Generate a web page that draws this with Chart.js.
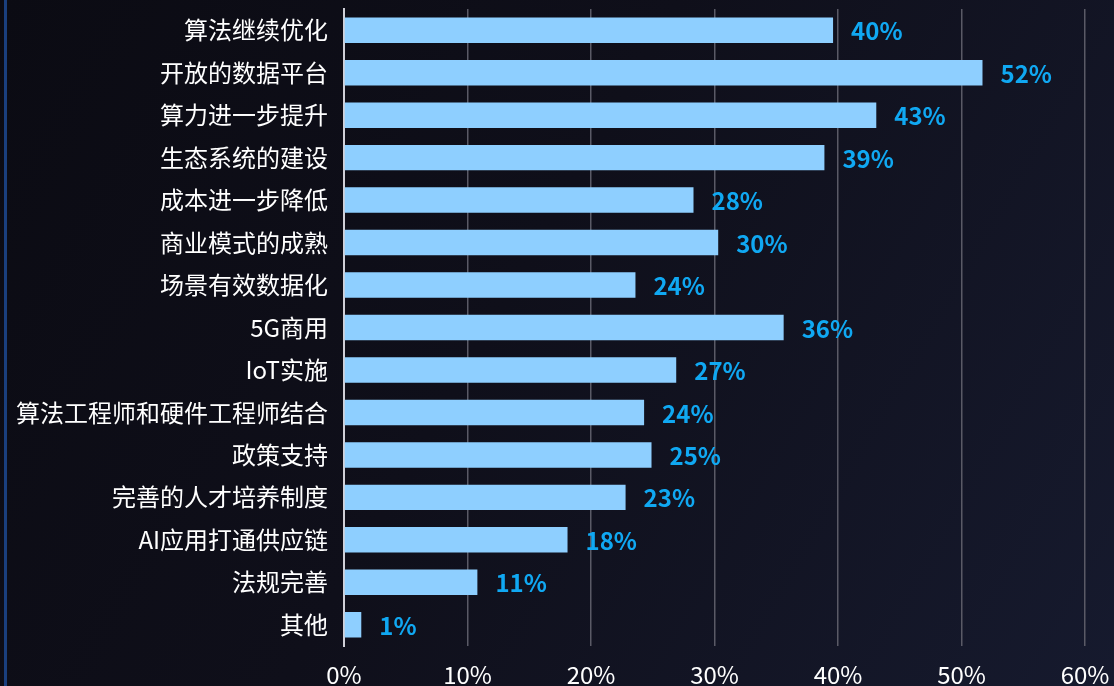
<!DOCTYPE html>
<html>
<head>
<meta charset="utf-8">
<script src="https://cdn.jsdelivr.net/npm/chart.js@4/dist/chart.umd.min.js"></script>
<style>
  html, body { margin: 0; padding: 0; width: 1114px; height: 686px; overflow: hidden; }
  body { background: linear-gradient(120deg, #0b0b13 0%, #0f0f1a 45%, #161a2e 100%); position: relative; }
  #edge { position: absolute; left: 4px; top: 0; width: 3px; height: 686px; background: #1a3f7e; }
  #wrap { position: absolute; left: 0; top: 0; width: 1114px; height: 686px; }
</style>
</head>
<body>
<div id="edge"></div>
<div id="wrap"><canvas id="c" width="1114" height="686"></canvas></div>
<script>
const categories = ["算法继续优化","开放的数据平台","算力进一步提升","生态系统的建设","成本进一步降低","商业模式的成熟","场景有效数据化","5G商用","IoT实施","算法工程师和硬件工程师结合","政策支持","完善的人才培养制度","AI应用打通供应链","法规完善","其他"];
const values = [39.6, 51.7, 43.1, 38.9, 28.3, 30.3, 23.6, 35.6, 26.9, 24.3, 24.9, 22.8, 18.1, 10.8, 1.4];
const valueLabels = ["40%","52%","43%","39%","28%","30%","24%","36%","27%","24%","25%","23%","18%","11%","1%"];
const xTicks = [0, 10, 20, 30, 40, 50, 60];

const FONT = "'Noto Sans CJK SC', 'Noto Sans', sans-serif";

const labelPlugin = {
  id: 'valueLabels',
  afterDatasetsDraw(chart) {
    const ctx = chart.ctx;
    const meta = chart.getDatasetMeta(0);
    ctx.save();
    ctx.font = "bold 24px " + FONT;
    ctx.fillStyle = "#10a8f2";
    ctx.textAlign = "left";
    ctx.textBaseline = "middle";
    meta.data.forEach((bar, i) => {
      ctx.fillText(valueLabels[i], bar.x + 18, bar.y + 1);
    });
    ctx.restore();
  }
};

new Chart(document.getElementById('c'), {
  type: 'bar',
  data: {
    labels: categories,
    datasets: [{
      data: values,
      backgroundColor: '#8ecfff',
      borderWidth: 0,
      barPercentage: 0.6,
      categoryPercentage: 1.0
    }]
  },
  options: {
    indexAxis: 'y',
    responsive: false,
    animation: false,
    events: [],
    layout: { padding: { top: 9, right: 29, left: 0, bottom: 0 } },
    plugins: { legend: { display: false }, tooltip: { enabled: false } },
    scales: {
      x: {
        min: 0, max: 60,
        afterFit(scale) { scale.height = 40; scale.paddingLeft = 0; scale.paddingRight = 0; },
        afterBuildTicks(scale) { scale.ticks = xTicks.map(v => ({ value: v })); },
        grid: { color: '#5a5a66', lineWidth: 1.5, drawTicks: false },
        border: { display: false },
        ticks: {
          color: '#ffffff',
          font: { size: 24, family: FONT },
          padding: 14,
          maxRotation: 0,
          callback: v => v + '%'
        }
      },
      y: {
        afterFit(scale) { scale.width = 344; scale.paddingTop = 0; scale.paddingBottom = 0; },
        grid: { display: false, drawTicks: false },
        border: { display: true, color: '#d0d0d8', width: 2 },
        ticks: {
          color: '#ffffff',
          font: { size: 24, family: FONT },
          padding: 16,
          autoSkip: false
        }
      }
    }
  },
  plugins: [labelPlugin]
});
</script>
</body>
</html>
